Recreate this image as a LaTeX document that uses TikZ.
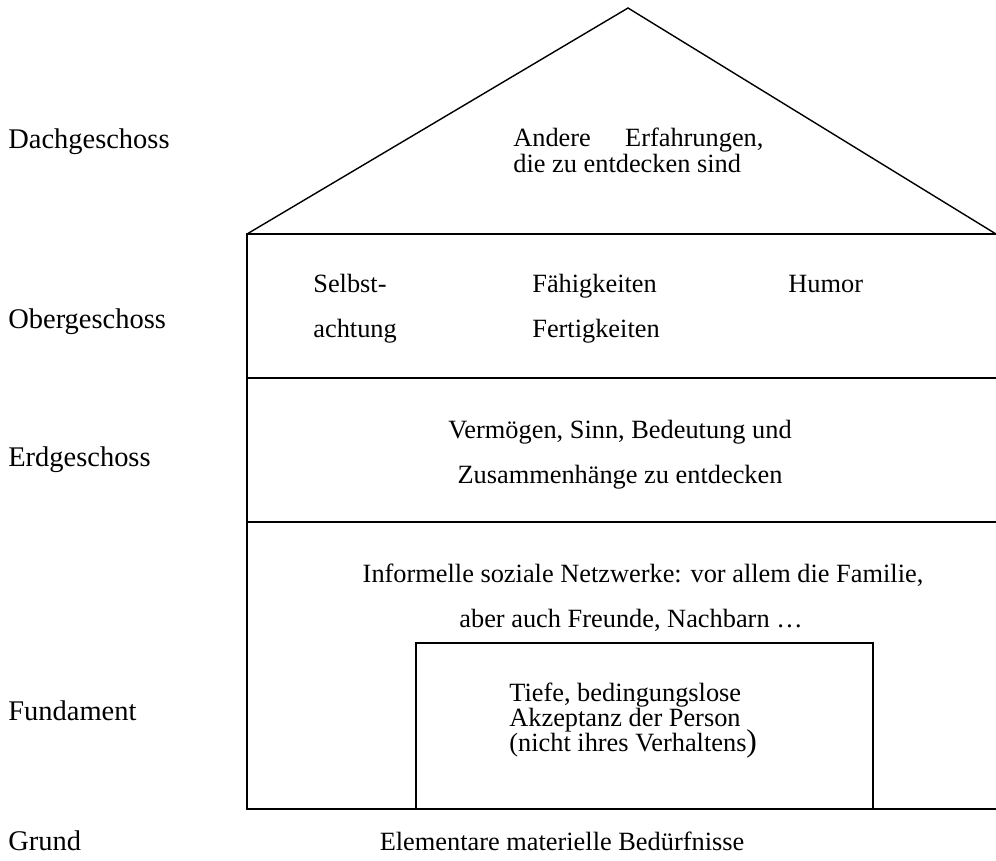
\documentclass[tikz,border=0pt]{standalone}
\usepackage{fontspec}
\setmainfont{Liberation Serif}
\usepackage{tikz}

\tikzset{
  etage/.style={font=\fontsize{16.2}{19}\selectfont, anchor=base west, inner sep=0pt},
  links/.style={font=\fontsize{15}{18}\selectfont, anchor=base west, inner sep=0pt},
  inhalt/.style={font=\fontsize{15}{18}\selectfont, anchor=base, inner sep=0pt},
}

\begin{document}
\begin{tikzpicture}[x=0.02cm,y=-0.02cm]
  \useasboundingbox (0,0) rectangle (996,860);
  % house outline
  \coordinate (first) at (628,8);
  \draw[thick] (247,234) -- (first) -- (996,234);
  \draw[thick] (996,234) -- (247,234) -- (247,809) -- (996,809);
  \draw[thick] (247,378) -- (996,378);
  \draw[thick] (247,522) -- (996,522);
  \draw[thick] (416,809) -- (416,643) -- (873,643) -- (873,809);
  % floor names
  \node[etage] (dach) at (8,148) {Dachgeschoss};
  \node[etage] (ober) at (8,328) {Obergeschoss};
  \node[etage] (erd) at (8,466) {Erdgeschoss};
  \node[etage] (fund) at (8,720) {Fundament};
  \node[etage] (grund) at (8,850) {Grund};
  % contents
  \node[links] (andere) at (513,146) {Andere\hspace{1.3em}Erfahrungen,};
  \node[links] (entd) at (513,172) {die zu entdecken sind};
  \node[links] (selbst) at (313,292) {Selbst-};
  \node[links] (achtung) at (313,337) {achtung};
  \node[links] (faeh) at (532,292) {Fähigkeiten};
  \node[links] (fert) at (532,337) {Fertigkeiten};
  \node[links] (humor) at (788,292) {Humor};
  \node[inhalt] (verm) at (620,438) {Vermögen, Sinn, Bedeutung und};
  \node[inhalt] (zus) at (620,483) {Zusammenhänge zu entdecken};
  \node[inhalt] (netz) at (643,582) {Informelle soziale Netzwerke: vor allem die Familie,};
  \node[inhalt] (freunde) at (631,627) {aber auch Freunde, Nachbarn …};
  \node[links] (tiefe) at (509,701) {Tiefe, bedingungslose};
  \node[links] (akz) at (509,726) {Akzeptanz der Person};
  \node[links] (nicht) at (509,751) {(nicht ihres Verhaltens{\fontsize{18}{19}\selectfont)}};
  \node[inhalt] (elem) at (562,850) {Elementare materielle Bedürfnisse};
\end{tikzpicture}
\end{document}
